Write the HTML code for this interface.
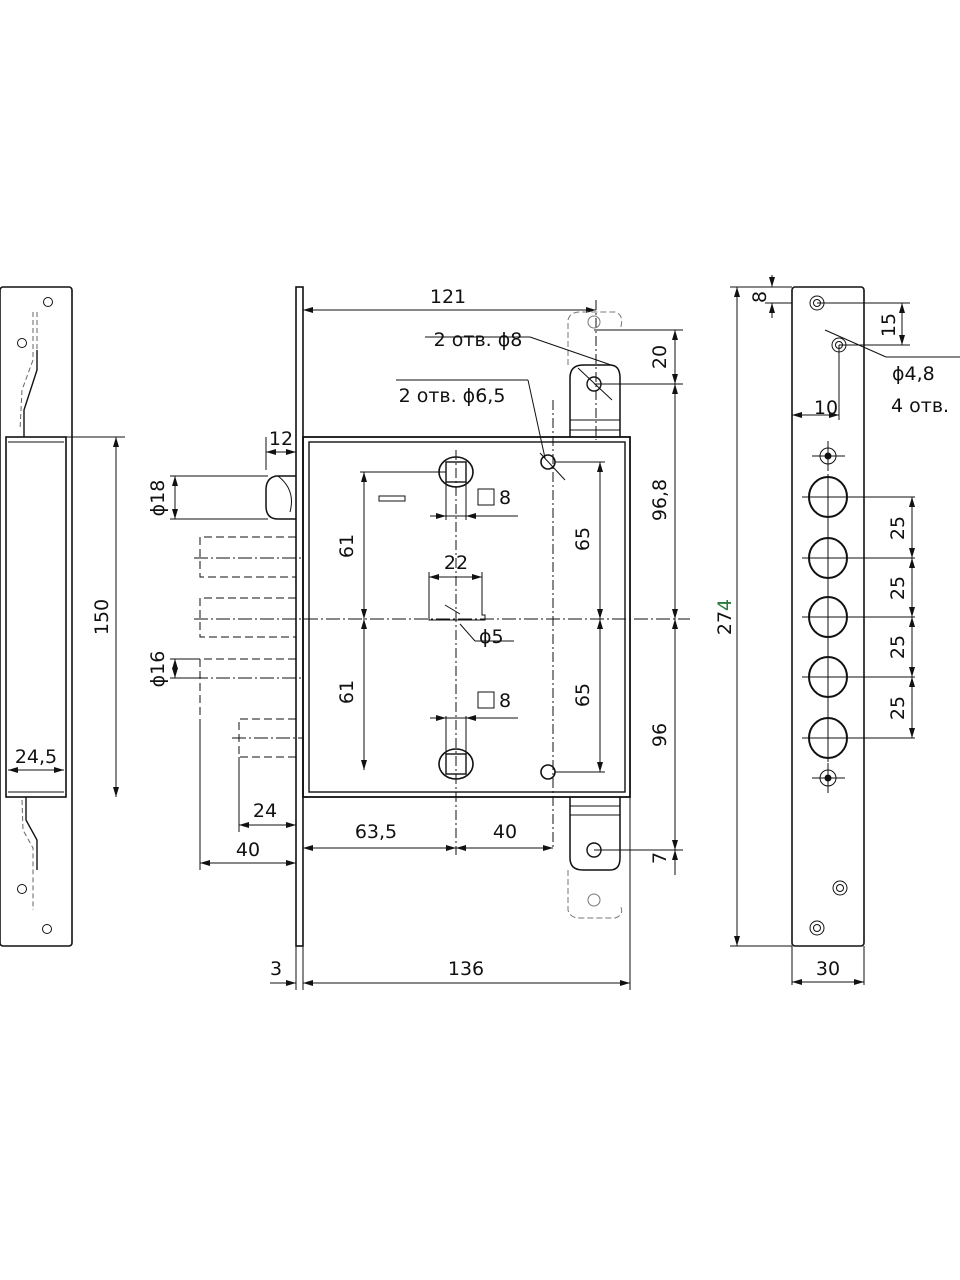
<!DOCTYPE html>
<html><head><meta charset="utf-8"><style>
html,body{margin:0;padding:0;background:#fff;}
svg{display:block;}
text{font-family:"DejaVu Sans","Liberation Sans",sans-serif;font-size:19px;fill:#111;}
</style></head><body>
<svg width="960" height="1280" viewBox="0 0 960 1280" xmlns="http://www.w3.org/2000/svg">
<defs>
<marker id="a" viewBox="0 0 10 6" refX="10" refY="3" markerWidth="10" markerHeight="6" orient="auto-start-reverse"><path d="M0,0 L10,3 L0,6 z" fill="#111"/></marker>
</defs>
<g fill="none" stroke="#111" stroke-width="1">
<!-- LEFT STRIKE PLATE -->
<rect x="0" y="287" width="72" height="659" rx="3" stroke-width="1.6"/>
<rect x="6" y="437" width="60" height="360" stroke-width="1.6"/>
<line x1="8" y1="442" x2="64" y2="442"/>
<line x1="8" y1="792" x2="64" y2="792"/>
<circle cx="48" cy="302" r="4.5"/><circle cx="22" cy="343" r="4.5"/>
<circle cx="22" cy="889" r="4.5"/><circle cx="47" cy="929" r="4.5"/>
<path d="M37,350 L37,370 L24,410 L24,437" stroke-width="1.4"/>
<path d="M33,312 L33,360 L22,390 L20,430" stroke-dasharray="5,3" stroke="#666"/>
<path d="M37,312 L37,350" stroke-dasharray="5,3" stroke="#666"/>
<path d="M26,797 L26,820 L37,840 L37,870" stroke-width="1.4"/>
<path d="M22,800 L23,830 L33,848 L33,910" stroke-dasharray="5,3" stroke="#666"/>
<line x1="66" y1="437" x2="125" y2="437"/>
<line x1="116" y1="437" x2="116" y2="797" marker-start="url(#a)" marker-end="url(#a)"/>
<line x1="8" y1="770" x2="64" y2="770" marker-start="url(#a)" marker-end="url(#a)"/>

<!-- MAIN FACEPLATE -->
<rect x="296" y="287" width="7" height="659" stroke-width="1.6"/>
<rect x="303" y="437" width="327" height="360" stroke-width="1.8"/>
<rect x="309" y="442" width="316" height="350" stroke-width="1.4"/>
<path d="M296,476 L276,476 Q266,478 266,490 L266,506 Q266,519 278,519 L296,519" stroke-width="1.5"/>
<path d="M278,476 Q296,490 290,512" />
<line x1="266" y1="437" x2="266" y2="470"/>
<line x1="266" y1="452" x2="296" y2="452" marker-start="url(#a)" marker-end="url(#a)"/>
<line x1="170" y1="476" x2="268" y2="476"/><line x1="170" y1="519" x2="268" y2="519"/>
<line x1="175" y1="476" x2="175" y2="519" marker-start="url(#a)" marker-end="url(#a)"/>
<g stroke-dasharray="8,4">
<path d="M296,537 L200,537 L200,577 L296,577"/>
<path d="M296,598 L200,598 L200,637 L296,637"/>
<path d="M296,659 L200,659 L200,720"/>
<path d="M296,719 L239,719 L239,757 L296,757"/>
</g>
<g stroke-dasharray="14,3,2,3">
<line x1="194" y1="558" x2="303" y2="558"/>
<line x1="194" y1="619" x2="690" y2="619"/>
<line x1="194" y1="678" x2="303" y2="678"/>
<line x1="232" y1="738" x2="303" y2="738"/>
</g>
<line x1="170" y1="659" x2="200" y2="659"/><line x1="170" y1="678" x2="195" y2="678"/>
<line x1="175" y1="659" x2="175" y2="678" marker-start="url(#a)" marker-end="url(#a)"/>
<line x1="200" y1="720" x2="200" y2="870"/>
<line x1="239" y1="757" x2="239" y2="832"/>
<line x1="239" y1="825" x2="296" y2="825" marker-start="url(#a)" marker-end="url(#a)"/>
<line x1="200" y1="863" x2="296" y2="863" marker-start="url(#a)" marker-end="url(#a)"/>
<line x1="303" y1="310" x2="596" y2="310" marker-start="url(#a)" marker-end="url(#a)"/>
<line x1="596" y1="300" x2="596" y2="440" stroke-dasharray="10,3,2,3"/>
<path d="M570,437 L570,378 Q570,365 583,365 L610,365 Q620,365 620,378 L620,437" stroke-width="1.5"/>
<line x1="570" y1="420" x2="620" y2="420"/><line x1="570" y1="430" x2="620" y2="430"/>
<circle cx="594" cy="384" r="7" stroke-width="1.4"/>
<path d="M568,365 L568,320 Q570,312 580,312 L615,312 Q625,315 620,330" stroke-dasharray="6,3" stroke="#777"/>
<circle cx="594" cy="322" r="6" stroke="#777"/>
<line x1="594" y1="330" x2="683" y2="330"/>
<line x1="594" y1="384" x2="683" y2="384"/>
<line x1="675" y1="330" x2="675" y2="384" marker-start="url(#a)" marker-end="url(#a)"/>
<line x1="425" y1="337" x2="530" y2="337"/><line x1="530" y1="337" x2="614" y2="366"/>
<line x1="578" y1="368" x2="612" y2="400"/>
<path d="M570,797 L570,858 Q570,870 583,870 L610,870 Q620,870 620,858 L620,797" stroke-width="1.5"/>
<line x1="570" y1="806" x2="620" y2="806"/><line x1="570" y1="815" x2="620" y2="815"/>
<circle cx="594" cy="850" r="7" stroke-width="1.4"/>
<path d="M568,870 L568,910 Q570,918 580,918 L615,918 Q625,915 620,905" stroke-dasharray="6,3" stroke="#777"/>
<circle cx="594" cy="900" r="6" stroke="#777"/>
<line x1="594" y1="850" x2="683" y2="850"/>
<line x1="675" y1="384" x2="675" y2="619" marker-start="url(#a)" marker-end="url(#a)"/>
<line x1="675" y1="619" x2="675" y2="850" marker-start="url(#a)" marker-end="url(#a)"/>
<line x1="675" y1="850" x2="675" y2="875" marker-start="url(#a)"/>
<circle cx="548" cy="462" r="7" stroke-width="1.6"/>
<circle cx="548" cy="772" r="7" stroke-width="1.6"/>
<line x1="396" y1="380" x2="528" y2="380"/><line x1="528" y1="380" x2="545" y2="458"/>
<line x1="540" y1="453" x2="565" y2="480"/>
<line x1="553" y1="400" x2="553" y2="850" stroke-dasharray="10,3,2,3"/>
<line x1="555" y1="462" x2="605" y2="462"/><line x1="555" y1="772" x2="605" y2="772"/>
<line x1="600" y1="462" x2="600" y2="619" marker-start="url(#a)" marker-end="url(#a)"/>
<line x1="600" y1="619" x2="600" y2="772" marker-start="url(#a)" marker-end="url(#a)"/>
<ellipse cx="456" cy="472" rx="17" ry="15" stroke-width="1.6"/>
<rect x="446" y="462" width="20" height="20" stroke-width="1.4"/>
<ellipse cx="456" cy="764" rx="17" ry="15" stroke-width="1.6"/>
<rect x="446" y="754" width="20" height="20" stroke-width="1.4"/>
<line x1="456" y1="450" x2="456" y2="855" stroke-dasharray="10,3,2,3"/>
<line x1="446" y1="482" x2="446" y2="520"/><line x1="466" y1="482" x2="466" y2="520"/>
<line x1="430" y1="516" x2="518" y2="516"/>
<line x1="430" y1="516" x2="446" y2="516" marker-end="url(#a)"/><line x1="482" y1="516" x2="466" y2="516" marker-end="url(#a)"/>
<line x1="446" y1="716" x2="446" y2="754"/><line x1="466" y1="716" x2="466" y2="754"/>
<line x1="430" y1="718" x2="518" y2="718"/>
<line x1="430" y1="718" x2="446" y2="718" marker-end="url(#a)"/><line x1="482" y1="718" x2="466" y2="718" marker-end="url(#a)"/>
<rect x="478" y="489" width="16" height="16"/><rect x="478" y="692" width="16" height="16"/>
<line x1="360" y1="472" x2="446" y2="472"/>
<line x1="364" y1="472" x2="364" y2="619" marker-start="url(#a)" marker-end="url(#a)"/>
<line x1="364" y1="619" x2="364" y2="770" marker-start="url(#a)" marker-end="url(#a)"/>
<rect x="379" y="496" width="26" height="5"/>
<path d="M429,572 L429,620 L485,620 L485,615 L482,615 L482,572"/>
<line x1="429" y1="577" x2="482" y2="577" marker-start="url(#a)" marker-end="url(#a)"/>
<line x1="445" y1="605" x2="460" y2="614"/>
<line x1="460" y1="624" x2="475" y2="641"/><line x1="475" y1="641" x2="514" y2="641"/>
<line x1="303" y1="797" x2="303" y2="990"/>
<line x1="303" y1="848" x2="456" y2="848" marker-start="url(#a)" marker-end="url(#a)"/>
<line x1="456" y1="848" x2="553" y2="848" marker-start="url(#a)" marker-end="url(#a)"/>
<line x1="630" y1="797" x2="630" y2="990"/>
<line x1="296" y1="946" x2="296" y2="990"/>
<line x1="303" y1="983" x2="630" y2="983" marker-start="url(#a)" marker-end="url(#a)"/>
<line x1="270" y1="983" x2="296" y2="983" marker-end="url(#a)"/>

<!-- RIGHT PLATE -->
<rect x="792" y="287" width="72" height="659" rx="3" stroke-width="1.6"/>
<line x1="730" y1="287" x2="792" y2="287"/><line x1="730" y1="946" x2="792" y2="946"/>
<line x1="737" y1="287" x2="737" y2="946" marker-start="url(#a)" marker-end="url(#a)"/>
<circle cx="817" cy="303" r="7"/><circle cx="817" cy="303" r="3.5"/>
<circle cx="839" cy="345" r="7"/><circle cx="839" cy="345" r="3.5"/>
<circle cx="840" cy="888" r="7"/><circle cx="840" cy="888" r="3.5"/>
<circle cx="817" cy="928" r="7"/><circle cx="817" cy="928" r="3.5"/>
<line x1="765" y1="303" x2="792" y2="303"/>
<line x1="772" y1="275" x2="772" y2="287" marker-end="url(#a)"/><line x1="772" y1="318" x2="772" y2="303" marker-end="url(#a)"/>
<line x1="817" y1="303" x2="910" y2="303"/><line x1="839" y1="345" x2="910" y2="345"/>
<line x1="902" y1="303" x2="902" y2="345" marker-start="url(#a)" marker-end="url(#a)"/>
<line x1="825" y1="330" x2="886" y2="357"/><line x1="886" y1="357" x2="960" y2="357"/>
<line x1="839" y1="345" x2="839" y2="420"/>
<line x1="792" y1="415" x2="839" y2="415" marker-start="url(#a)" marker-end="url(#a)"/>
<circle cx="828" cy="456" r="8"/><circle cx="828" cy="456" r="3" fill="#111"/>
<line x1="812" y1="456" x2="845" y2="456"/><line x1="828" y1="441" x2="828" y2="471"/>
<circle cx="828" cy="778" r="8"/><circle cx="828" cy="778" r="3" fill="#111"/>
<line x1="812" y1="778" x2="845" y2="778"/><line x1="828" y1="763" x2="828" y2="793"/>
<g stroke-width="2">
<ellipse cx="828" cy="497" rx="19" ry="20"/>
<ellipse cx="828" cy="558" rx="19" ry="20"/>
<ellipse cx="828" cy="617" rx="19" ry="20"/>
<ellipse cx="828" cy="677" rx="19" ry="20"/>
<ellipse cx="828" cy="738" rx="19" ry="20"/>
</g>
<line x1="802" y1="497" x2="915" y2="497"/><line x1="802" y1="558" x2="915" y2="558"/>
<line x1="802" y1="617" x2="915" y2="617"/><line x1="802" y1="677" x2="915" y2="677"/>
<line x1="802" y1="738" x2="915" y2="738"/>
<line x1="828" y1="474" x2="828" y2="762"/>
<line x1="912" y1="497" x2="912" y2="558" marker-start="url(#a)" marker-end="url(#a)"/>
<line x1="912" y1="558" x2="912" y2="617" marker-start="url(#a)" marker-end="url(#a)"/>
<line x1="912" y1="617" x2="912" y2="677" marker-start="url(#a)" marker-end="url(#a)"/>
<line x1="912" y1="677" x2="912" y2="738" marker-start="url(#a)" marker-end="url(#a)"/>
<line x1="792" y1="946" x2="792" y2="985"/><line x1="864" y1="946" x2="864" y2="985"/>
<line x1="792" y1="982" x2="864" y2="982" marker-start="url(#a)" marker-end="url(#a)"/>
</g>
<g>
<text x="36" y="763" text-anchor="middle">24,5</text>
<text transform="translate(108,617) rotate(-90)" text-anchor="middle">150</text>
<text x="281" y="445" text-anchor="middle">12</text>
<text transform="translate(164,498) rotate(-90)" text-anchor="middle">ϕ18</text>
<text transform="translate(164,669) rotate(-90)" text-anchor="middle">ϕ16</text>
<text x="265" y="817" text-anchor="middle">24</text>
<text x="248" y="856" text-anchor="middle">40</text>
<text x="448" y="303" text-anchor="middle">121</text>
<text x="478" y="346" text-anchor="middle">2 отв. ϕ8</text>
<text x="452" y="402" text-anchor="middle">2 отв. ϕ6,5</text>
<text x="499" y="504">8</text><text x="499" y="707">8</text>
<text x="456" y="569" text-anchor="middle">22</text>
<text x="479" y="643">ϕ5</text>
<text transform="translate(353,546) rotate(-90)" text-anchor="middle">61</text>
<text transform="translate(353,692) rotate(-90)" text-anchor="middle">61</text>
<text transform="translate(589,539) rotate(-90)" text-anchor="middle">65</text>
<text transform="translate(589,695) rotate(-90)" text-anchor="middle">65</text>
<text transform="translate(666,357) rotate(-90)" text-anchor="middle">20</text>
<text transform="translate(666,500) rotate(-90)" text-anchor="middle">96,8</text>
<text transform="translate(666,735) rotate(-90)" text-anchor="middle">96</text>
<text transform="translate(666,858) rotate(-90)" text-anchor="middle">7</text>
<text x="376" y="838" text-anchor="middle">63,5</text>
<text x="505" y="838" text-anchor="middle">40</text>
<text x="466" y="975" text-anchor="middle">136</text>
<text x="276" y="975" text-anchor="middle">3</text>
<text transform="translate(731,617) rotate(-90)" text-anchor="middle">27<tspan fill="#2a7a3a">4</tspan></text>
<text transform="translate(766,297) rotate(-90)" text-anchor="middle">8</text>
<text transform="translate(895,325) rotate(-90)" text-anchor="middle">15</text>
<text x="892" y="380">ϕ4,8</text>
<text x="891" y="412">4 отв.</text>
<text x="826" y="414" text-anchor="middle">10</text>
<text transform="translate(904,528) rotate(-90)" text-anchor="middle">25</text>
<text transform="translate(904,588) rotate(-90)" text-anchor="middle">25</text>
<text transform="translate(904,647) rotate(-90)" text-anchor="middle">25</text>
<text transform="translate(904,708) rotate(-90)" text-anchor="middle">25</text>
<text x="828" y="975" text-anchor="middle">30</text>
</g>
</svg>
</body></html>
